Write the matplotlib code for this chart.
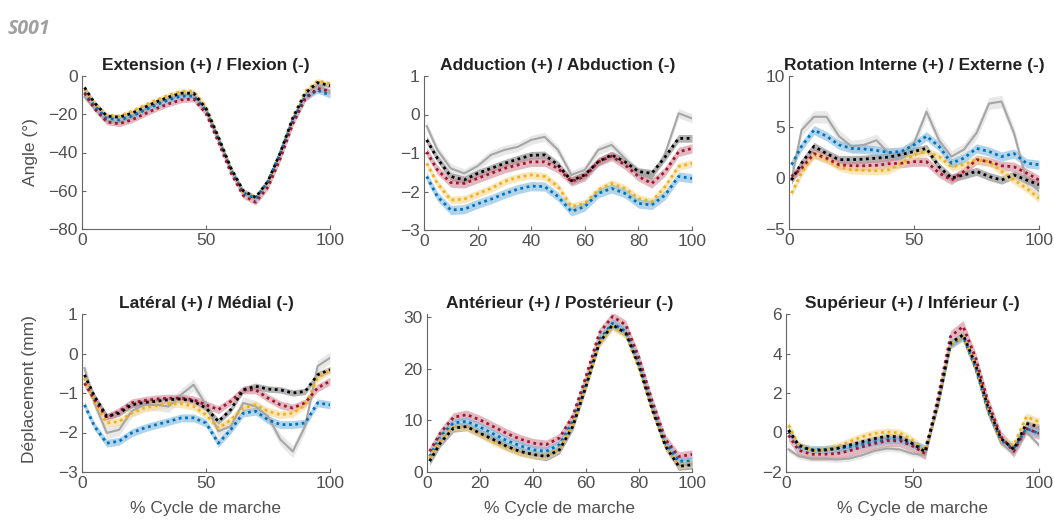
import numpy as np
import matplotlib
matplotlib.use('Agg')
import matplotlib.pyplot as plt

plt.rcParams['font.family'] = ['Liberation Sans', 'DejaVu Sans']

# % gait cycle samples
pct = [1, 5, 10, 15, 20, 25, 30, 35, 40, 45, 50, 55, 60, 65, 70, 75, 80, 85, 90, 95, 100]

# Extension (+) / Flexion (-)
ext_gray = [-11, -17, -23.5, -24, -21.5, -18, -14.5, -12, -10, -10, -17.5, -32.5, -48.5, -60.5, -64, -55.5, -40.5, -22.5, -9.5, -5, -8]
ext_black = [-6, -14, -21, -21.5, -19.5, -16.5, -13.5, -11, -9, -9, -17, -32, -48, -60, -63.5, -55, -40, -22, -9, -3.5, -5]
ext_red = [-9, -17, -24, -25, -23, -20, -17, -14.5, -12.5, -12, -19.5, -34.5, -50.5, -62.5, -66, -58, -43, -25, -12, -6.5, -8]
ext_yellow = [-7, -14, -20.5, -21, -18.5, -15.5, -12.5, -10, -8, -8, -16, -31.5, -48, -60.5, -63.5, -55.5, -40, -21.5, -8, -2.5, -4]
ext_blue = [-8.5, -15.5, -22, -23, -21, -18, -15, -12.5, -10.5, -10.5, -18, -33, -49, -61, -64, -55, -40, -23, -11, -7.5, -10]

# Adduction (+) / Abduction (-)
add_gray = [-0.30, -0.92, -1.40, -1.53, -1.34, -1.05, -0.92, -0.84, -0.66, -0.58, -0.92, -1.57, -1.44, -0.92, -0.79, -1.14, -1.53, -1.66, -1.01, 0.03, -0.10]
add_black = [-0.66, -1.14, -1.61, -1.70, -1.53, -1.40, -1.27, -1.16, -1.06, -1.05, -1.31, -1.72, -1.57, -1.23, -1.05, -1.23, -1.48, -1.53, -1.10, -0.62, -0.62]
add_red = [-0.97, -1.44, -1.77, -1.79, -1.66, -1.53, -1.40, -1.31, -1.23, -1.23, -1.40, -1.74, -1.61, -1.23, -1.08, -1.31, -1.61, -1.79, -1.48, -0.97, -0.88]
add_yellow = [-1.27, -1.79, -2.22, -2.20, -2.06, -1.92, -1.74, -1.63, -1.57, -1.61, -1.87, -2.39, -2.31, -1.96, -1.79, -1.92, -2.18, -2.26, -1.87, -1.35, -1.27]
add_blue = [-1.61, -2.13, -2.48, -2.46, -2.32, -2.20, -2.06, -1.94, -1.86, -1.87, -2.13, -2.52, -2.39, -2.05, -1.92, -2.05, -2.31, -2.35, -2.09, -1.61, -1.66]

# Rotation interne (+) / externe (-)
rot_gray = [-0.2, 4.7, 6.0, 6.0, 4.1, 3.1, 3.25, 3.7, 2.4, 2.3, 3.4, 6.5, 3.7, 2.1, 2.8, 4.4, 7.3, 7.5, 4.4, -0.2, -1.3]
rot_black = [-0.2, 1.45, 3.1, 2.4, 1.8, 1.8, 1.85, 1.95, 2.05, 2.3, 2.6, 2.9, 1.1, 0.0, 0.3, 0.65, 0.15, -0.2, 0.3, -0.2, -0.65]
rot_red = [0.15, 0.95, 2.4, 1.95, 1.3, 1.2, 1.2, 1.25, 1.4, 1.45, 1.6, 1.6, 0.5, -0.2, 0.65, 1.8, 1.6, 1.2, 1.1, 0.5, -0.2]
rot_yellow = [-1.5, 0.5, 2.3, 1.8, 1.1, 0.8, 0.75, 0.7, 0.8, 1.45, 2.3, 2.6, 2.1, 1.1, 1.3, 1.8, 1.6, 0.65, -0.2, -1.0, -2.0]
rot_blue = [1.3, 3.1, 4.7, 4.1, 3.25, 2.9, 2.85, 2.7, 2.5, 2.6, 3.25, 4.1, 3.1, 1.45, 1.95, 2.9, 2.6, 2.1, 2.4, 1.45, 1.3]

# Lateral (+) / Medial (-)
lat_gray = [-0.37, -1.25, -2.01, -1.93, -1.46, -1.30, -1.30, -1.34, -1.04, -0.79, -1.30, -1.97, -1.84, -1.25, -1.34, -1.59, -2.18, -2.48, -1.84, -0.32, -0.11]
lat_black = [-0.54, -1.08, -1.59, -1.51, -1.30, -1.24, -1.21, -1.17, -1.15, -1.21, -1.38, -1.72, -1.42, -0.92, -0.83, -0.90, -0.92, -1.00, -0.96, -0.54, -0.41]
lat_red = [-0.75, -1.17, -1.63, -1.46, -1.25, -1.19, -1.15, -1.13, -1.13, -1.17, -1.30, -1.42, -1.21, -0.92, -0.92, -1.13, -1.30, -1.38, -1.25, -0.87, -0.70]
lat_yellow = [-0.62, -1.25, -1.76, -1.72, -1.51, -1.38, -1.32, -1.27, -1.27, -1.34, -1.55, -1.89, -1.68, -1.38, -1.30, -1.46, -1.55, -1.51, -1.30, -0.62, -0.41]
lat_blue = [-1.30, -1.84, -2.27, -2.22, -2.01, -1.89, -1.80, -1.72, -1.63, -1.63, -1.76, -2.27, -1.93, -1.51, -1.46, -1.68, -1.80, -1.80, -1.76, -1.25, -1.30]

# Anterieur (+) / Posterieur (-)
ant_gray = [2.4, 5.9, 8.7, 8.9, 7.6, 6.3, 5.0, 4.0, 3.3, 3.0, 4.3, 8.9, 16.7, 25.0, 28.4, 26.8, 20.4, 12.1, 5.0, 1.2, 1.5]
ant_black = [2.1, 5.6, 8.5, 8.8, 7.5, 6.3, 5.0, 4.0, 3.4, 3.0, 4.3, 8.8, 16.6, 25.0, 28.5, 26.9, 20.5, 12.1, 5.0, 1.1, 1.4]
ant_red = [4.0, 7.5, 10.6, 11.1, 10.1, 8.8, 7.5, 6.4, 5.6, 5.3, 6.6, 10.8, 18.5, 26.9, 30.1, 28.5, 22.1, 13.7, 6.3, 3.0, 3.4]
ant_yellow = [2.7, 6.3, 8.8, 8.7, 7.4, 5.9, 4.8, 3.8, 3.4, 3.2, 4.6, 9.2, 16.9, 25.0, 28.2, 26.6, 20.1, 11.9, 5.0, 1.4, 1.7]
ant_blue = [3.0, 6.9, 9.5, 9.8, 8.7, 7.4, 6.1, 5.1, 4.3, 4.0, 5.3, 9.8, 17.5, 25.6, 28.8, 27.2, 21.1, 12.7, 5.6, 2.1, 2.1]

# Superieur (+) / Inferieur (-)
sup_gray = [-0.86, -1.20, -1.32, -1.32, -1.37, -1.32, -1.15, -0.93, -0.81, -0.86, -1.07, -1.15, 1.31, 4.36, 4.78, 3.17, 0.97, -0.56, -1.05, 0.03, -0.64]
sup_black = [0.12, -0.64, -0.90, -0.90, -0.81, -0.64, -0.47, -0.31, -0.19, -0.22, -0.56, -0.98, 1.47, 4.53, 4.95, 3.42, 1.22, -0.31, -0.85, 0.46, 0.29]
sup_red = [-0.14, -0.90, -1.10, -1.10, -1.07, -0.93, -0.73, -0.56, -0.42, -0.42, -0.68, -1.07, 1.73, 4.86, 5.37, 3.76, 1.47, -0.22, -0.95, 0.20, -0.05]
sup_yellow = [0.37, -0.64, -0.90, -0.86, -0.73, -0.47, -0.22, -0.05, 0.03, -0.02, -0.39, -0.90, 1.39, 4.44, 4.86, 3.34, 1.14, -0.39, -0.65, 0.80, 0.54]
sup_blue = [0.12, -0.73, -0.86, -0.86, -0.81, -0.73, -0.59, -0.47, -0.36, -0.36, -0.59, -0.81, 1.39, 4.44, 4.86, 3.25, 1.05, -0.39, -0.80, 0.20, -0.05]

# half-width of the shaded bands (gray, black, red, yellow, blue)
ext_sd = [1.2, 1.2, 1.5, 1.2, 1.5]
add_sd = [0.12, 0.1, 0.12, 0.1, 0.12]
rot_sd = [0.6, 0.4, 0.45, 0.4, 0.45]
lat_sd = [0.15, 0.08, 0.1, 0.1, 0.1]
ant_sd = [0.8, 0.8, 0.9, 0.8, 0.9]
sup_sd = [0.15, 0.15, 0.3, 0.2, 0.2]

titles = ['Extension (+) / Flexion (-)', 'Adduction (+) / Abduction (-)',
          'Rotation Interne (+) / Externe (-)', 'Latéral (+) / Médial (-)',
          'Antérieur (+) / Postérieur (-)', 'Supérieur (+) / Inférieur (-)']

colors = ['#a6a6a6', '#000000', '#a2142f', '#edb120', '#0072bd']
band_colors = ['#d9d9d9', '#808080', '#d08a96', '#f6d88f', '#7fb8de']

W, H = 1054, 524
fig = plt.figure(figsize=(W / 100, H / 100), dpi=100)

# axes boxes in pixels: left, right, top, bottom
boxes = [(82, 330, 76, 229), (424, 692, 76, 230), (789, 1039, 76, 229),
         (82, 330, 314, 472), (427, 692, 314, 472), (786, 1039, 314, 472)]
ylims = [(-80, 0), (-3, 1), (-5, 10), (-3, 1), (0, 30.6), (-2, 6)]
yticks = [[-80, -60, -40, -20, 0], [-3, -2, -1, 0, 1], [-5, 0, 5, 10],
          [-3, -2, -1, 0, 1], [0, 10, 20, 30], [-2, 0, 2, 4, 6]]
xticks = [[0, 50, 100], [0, 20, 40, 60, 80, 100], [0, 50, 100],
          [0, 50, 100], [0, 20, 40, 60, 80, 100], [0, 50, 100]]

panels = [
    (ext_gray, ext_black, ext_red, ext_yellow, ext_blue, ext_sd),
    (add_gray, add_black, add_red, add_yellow, add_blue, add_sd),
    (rot_gray, rot_black, rot_red, rot_yellow, rot_blue, rot_sd),
    (lat_gray, lat_black, lat_red, lat_yellow, lat_blue, lat_sd),
    (ant_gray, ant_black, ant_red, ant_yellow, ant_blue, ant_sd),
    (sup_gray, sup_black, sup_red, sup_yellow, sup_blue, sup_sd),
]

x = np.array(pct)
for i, p in enumerate(panels):
    l, r, t, b = boxes[i]
    ax = fig.add_axes([l / W, (H - b) / H, (r - l) / W, (b - t) / H])
    curves = [np.array(c) for c in p[:5]]
    sd = p[5]
    # bands first
    for c, s, bc in zip(curves, sd, band_colors):
        ax.fill_between(x, c - s, c + s, color=bc, alpha=0.6, lw=0)
    # gray reference is solid, the others dotted
    ax.plot(x, curves[0], color=colors[0], lw=1.5, ls='-')
    for k in [4, 3, 2, 1]:
        ax.plot(x, curves[k], color=colors[k], lw=2, ls=(0, (1, 1.3)))

    ax.set_xlim(0, 100)
    ax.set_ylim(*ylims[i])
    ax.set_xticks(xticks[i])
    ax.set_yticks(yticks[i])
    for s in ['top', 'right']:
        ax.spines[s].set_visible(False)
    for s in ['left', 'bottom']:
        ax.spines[s].set_color('#666666')
        ax.spines[s].set_linewidth(0.8)
    ax.tick_params(direction='in', length=3, width=0.8, colors='#666666',
                   labelcolor='#505050', labelsize=12.5, pad=3)
    ax.set_title(titles[i], fontsize=12.5, fontweight='bold', color='#222222', pad=4)
    if i >= 3:
        ax.set_xlabel('% Cycle de marche', fontsize=12.5, color='#505050', labelpad=7)

fig.text(30 / W, 1 - 152 / H, 'Angle (°)', rotation=90, ha='center', va='center',
         fontsize=12.5, color='#505050')
fig.text(30 / W, 1 - 389 / H, 'Déplacement (mm)', rotation=90, ha='center', va='center',
         fontsize=12.5, color='#505050')
fig.text(8 / W, 1 - 29 / H, 'S001', fontsize=14, fontweight='bold', style='italic',
         color='#a0a0a0', family=['Open Sans', 'DejaVu Sans'], va='center')

fig.savefig('out.png', dpi=100)
